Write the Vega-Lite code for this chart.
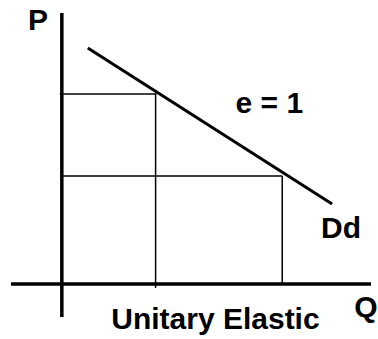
{
  "$schema": "https://vega.github.io/schema/vega-lite/v6.json",
  "width": 378,
  "height": 339,
  "padding": 0,
  "autosize": {"type": "fit", "contains": "padding"},
  "background": "white",
  "config": {"view": {"stroke": null}},
  "datasets": {
    "axes": [
      {"x": 0, "y": -33, "x2": 0, "y2": 271},
      {"x": -51, "y": 0, "x2": 310, "y2": 0}
    ],
    "demand": [
      {"x": 26, "y": 236, "x2": 271, "y2": 80}
    ],
    "guides": [
      {"x": -2, "y": 190, "x2": 95, "y2": 190},
      {"x": 94, "y": 190, "x2": 94, "y2": -4},
      {"x": 0, "y": 108, "x2": 221, "y2": 108},
      {"x": 221, "y": 108, "x2": 221, "y2": 0}
    ],
    "labels": [
      {"x": -24, "y": 254, "label": "P"},
      {"x": 208, "y": 171, "label": "e = 1"},
      {"x": 280, "y": 46, "label": "Dd"},
      {"x": 305, "y": -33, "label": "Q"},
      {"x": 154, "y": -45, "label": "Unitary Elastic"}
    ]
  },
  "layer": [
    {
      "data": {"name": "guides"},
      "mark": {"type": "rule", "color": "black", "strokeWidth": 1.5},
      "encoding": {
        "x": {"field": "x", "type": "quantitative", "scale": {"domain": [-62, 316], "nice": false, "zero": false}, "axis": null},
        "y": {"field": "y", "type": "quantitative", "scale": {"domain": [-55, 284], "nice": false, "zero": false}, "axis": null},
        "x2": {"field": "x2"},
        "y2": {"field": "y2"}
      }
    },
    {
      "data": {"name": "axes"},
      "mark": {"type": "rule", "color": "black", "strokeWidth": 3.5},
      "encoding": {
        "x": {"field": "x", "type": "quantitative"},
        "y": {"field": "y", "type": "quantitative"},
        "x2": {"field": "x2"},
        "y2": {"field": "y2"}
      }
    },
    {
      "data": {"name": "demand"},
      "mark": {"type": "rule", "color": "black", "strokeWidth": 3},
      "encoding": {
        "x": {"field": "x", "type": "quantitative"},
        "y": {"field": "y", "type": "quantitative"},
        "x2": {"field": "x2"},
        "y2": {"field": "y2"}
      }
    },
    {
      "data": {"name": "labels"},
      "mark": {"type": "text", "align": "center", "baseline": "alphabetic", "font": "Liberation Sans", "fontSize": 30, "fontWeight": "bold", "color": "black"},
      "encoding": {
        "x": {"field": "x", "type": "quantitative"},
        "y": {"field": "y", "type": "quantitative"},
        "text": {"field": "label"}
      }
    }
  ]
}
